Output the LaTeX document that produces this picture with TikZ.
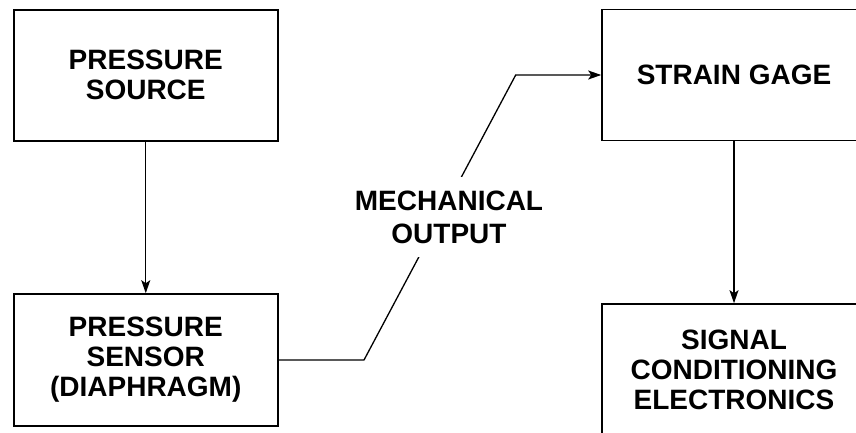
\documentclass[tikz,border=0pt]{standalone}
\usepackage{fontspec}
\setmainfont{Liberation Sans}
\usetikzlibrary{arrows.meta}
\begin{document}
\begin{tikzpicture}[x=1pt,y=-1pt,
  blk/.style={draw, line width=1.6pt, minimum width=264pt, minimum height=131pt, inner sep=0pt,
    align=center, font=\fontsize{28}{30}\selectfont\bfseries},
  conn/.style={line width=1.3pt, -{Stealth[length=13pt,width=9pt,inset=3pt]}},
  lbl/.style={fill=white, inner xsep=0pt, inner ysep=0pt, align=center, font=\fontsize{28}{33}\selectfont\bfseries}]
\useasboundingbox (0,0) rectangle (856,433);
\clip (0,0) rectangle (856,433);
\fill[white] (0,0) rectangle (856,433);
\node[blk] (ps) at (145.75,75.25) {PRESSURE\\SOURCE};
\node[blk, minimum height=132pt] (sens) at (145.75,360) {PRESSURE\\SENSOR\\(DIAPHRAGM)};
\node[blk] (sg) at (734,75) {STRAIN GAGE};
\node[blk, minimum height=132pt] (sig) at (734,370) {SIGNAL\\CONDITIONING\\ELECTRONICS};
\coordinate (k1) at (364,360);
\coordinate (k2) at (515.7,75);
\draw[conn] (ps.south) -- (sens.north);
\draw[conn] (sg.south) -- (sig.north);
\draw[conn] (sens.east) -- (k1) -- (k2) -- (sg.west);
\node[lbl, minimum height=80pt, minimum width=190pt] (mo) at (449,217) {MECHANICAL\\OUTPUT};
\end{tikzpicture}
\end{document}
